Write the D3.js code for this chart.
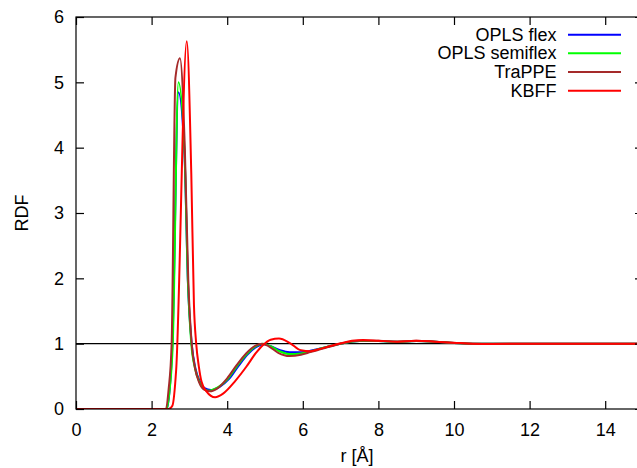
<!DOCTYPE html>
<html>
<head>
<meta charset="utf-8">
<script src="https://cdn.jsdelivr.net/npm/d3@7"></script>
<style>
  html, body { margin: 0; padding: 0; background: #fff; }
  svg { display: block; }
  text { font-family: "Liberation Sans", Arial, Helvetica, sans-serif; fill: #000; }
</style>
</head>
<body>
<svg id="chart" width="637" height="468"></svg>
<script>
// ---- data ----
const seriesNames = ["OPLS flex", "OPLS semiflex", "TraPPE", "KBFF"];
const seriesColors = ["#0000ff", "#00ff00", "#a52a2a", "#ff0000"];

const xTicks = [0, 2, 4, 6, 8, 10, 12, 14];
const yTicks = [0, 1, 2, 3, 4, 5, 6];

const oplsFlexR = [0, 2.4, 2.47, 2.55, 2.71, 2.87, 2.96, 3.06, 3.16, 3.27, 3.4, 3.57, 3.8, 4.05, 4.3, 4.55, 4.8, 4.97, 5.15, 5.4, 5.65, 5.95, 6.2, 6.5, 7.0, 7.5, 8.0, 8.5, 9.0, 9.5, 10.0, 10.5, 11, 12, 13, 14, 15.5];
const oplsFlexG = [0, 0, 0.25, 1.0, 4.85, 3.9, 1.95, 1.0, 0.62, 0.43, 0.32, 0.29, 0.34, 0.46, 0.66, 0.84, 0.96, 0.99, 0.96, 0.9, 0.87, 0.87, 0.89, 0.93, 1.0, 1.04, 1.04, 1.03, 1.04, 1.03, 1.01, 1.0, 1.0, 1.0, 1.0, 1.0, 1.0];

const oplsSemiR = [0, 2.4, 2.47, 2.56, 2.71, 2.87, 2.96, 3.05, 3.15, 3.26, 3.38, 3.5, 3.75, 4.0, 4.25, 4.5, 4.75, 4.95, 5.15, 5.4, 5.65, 5.95, 6.2, 6.5, 7.0, 7.5, 8.0, 8.5, 9.0, 9.5, 10.0, 10.5, 11, 12, 13, 14, 15.5];
const oplsSemiG = [0, 0, 0.25, 1.0, 5.0, 3.95, 1.97, 1.0, 0.62, 0.42, 0.31, 0.28, 0.33, 0.45, 0.65, 0.83, 0.96, 1.0, 0.96, 0.88, 0.84, 0.85, 0.88, 0.93, 1.0, 1.04, 1.04, 1.03, 1.04, 1.03, 1.01, 1.0, 1.0, 1.0, 1.0, 1.0, 1.0];

const trappeR = [0, 2.38, 2.45, 2.53, 2.63, 2.75, 2.88, 2.97, 3.06, 3.15, 3.25, 3.38, 3.54, 3.75, 4.0, 4.25, 4.5, 4.75, 4.92, 5.1, 5.35, 5.65, 5.95, 6.2, 6.5, 7.0, 7.5, 8.0, 8.5, 9.0, 9.5, 10.0, 10.5, 11, 12, 13, 14, 15.5];
const trappeG = [0, 0, 0.3, 1.0, 5.07, 5.37, 3.97, 1.98, 1.0, 0.62, 0.42, 0.3, 0.27, 0.32, 0.47, 0.67, 0.85, 0.97, 1.0, 0.96, 0.86, 0.81, 0.83, 0.87, 0.92, 1.0, 1.045, 1.045, 1.03, 1.045, 1.03, 1.01, 1.0, 1.0, 1.0, 1.0, 1.0, 1.0];

const kbffR = [0, 2.45, 2.55, 2.65, 2.93, 3.05, 3.12, 3.18, 3.25, 3.32, 3.45, 3.68, 3.9, 4.2, 4.51, 4.75, 4.95, 5.15, 5.37, 5.66, 5.95, 6.2, 6.45, 6.7, 7.0, 7.3, 7.6, 8.0, 8.5, 9.0, 9.5, 10.0, 10.5, 11, 12, 13, 14, 15.5];
const kbffG = [0, 0, 0.05, 0.6, 5.63, 3.6, 1.6, 1.0, 0.65, 0.42, 0.27, 0.18, 0.24, 0.42, 0.65, 0.85, 0.98, 1.06, 1.08, 1.01, 0.9, 0.885, 0.92, 0.96, 1.006, 1.045, 1.057, 1.045, 1.03, 1.045, 1.03, 1.015, 1.0, 0.995, 1.0, 1.0, 1.0, 1.0];

const seriesR = [oplsFlexR, oplsSemiR, trappeR, kbffR];
const seriesG = [oplsFlexG, oplsSemiG, trappeG, kbffG];

// ---- layout ----
const svg = d3.select("#chart");
const mLeft = 76, mRight = 643, mTop = 17, mBottom = 409;

const x = d3.scaleLinear().domain([0, 15]).range([mLeft, mRight]);
const y = d3.scaleLinear().domain([0, 6]).range([mBottom, mTop]);

svg.append("clipPath").attr("id", "clip")
  .append("rect").attr("x", mLeft).attr("y", mTop).attr("width", mRight - mLeft).attr("height", mBottom - mTop);

// reference line at 1
svg.append("line")
  .attr("x1", x(0)).attr("x2", x(15))
  .attr("y1", y(1)).attr("y2", y(1))
  .attr("stroke", "#000").attr("stroke-width", 1.2);

// curves
const line = d3.line()
  .x(d => x(d[0])).y(d => y(d[1]))
  .curve(d3.curveMonotoneX);

[0, 1, 2, 3].forEach(i => {
  const pts = seriesR[i].map((r, k) => [r, seriesG[i][k]]);
  svg.append("path")
    .attr("clip-path", "url(#clip)")
    .attr("d", line(pts))
    .attr("fill", "none")
    .attr("stroke", seriesColors[i])
    .attr("stroke-width", 2)
    .attr("stroke-linejoin", "round");
});

// frame
svg.append("rect")
  .attr("x", mLeft).attr("y", mTop)
  .attr("width", mRight - mLeft).attr("height", mBottom - mTop)
  .attr("fill", "none").attr("stroke", "#000").attr("stroke-width", 1.2);

// axes (ticks inward)
const fontSize = 18;
const fmt = d3.format("d");
const xAxisB = d3.axisBottom(x).tickValues(xTicks).tickFormat(fmt).tickSizeInner(-8).tickSizeOuter(0).tickPadding(14);
const gxb = svg.append("g").attr("transform", `translate(0,${mBottom})`).call(xAxisB);
const xAxisT = d3.axisTop(x).tickValues(xTicks).tickSizeInner(-8).tickSizeOuter(0).tickFormat("");
const gxt = svg.append("g").attr("transform", `translate(0,${mTop})`).call(xAxisT);
const yAxisL = d3.axisLeft(y).tickValues(yTicks).tickFormat(fmt).tickSizeInner(-8).tickSizeOuter(0).tickPadding(12);
const gyl = svg.append("g").attr("transform", `translate(${mLeft},0)`).call(yAxisL);
const yAxisR = d3.axisRight(y).tickValues(yTicks).tickSizeInner(-8).tickSizeOuter(0).tickFormat("");
const gyr = svg.append("g").attr("transform", `translate(${mRight},0)`).call(yAxisR);

[gxb, gxt, gyl, gyr].forEach(g => {
  g.select(".domain").remove();
  g.selectAll(".tick line").attr("stroke", "#000").attr("stroke-width", 1.2);
  g.selectAll("text")
    .attr("font-family", '"Liberation Sans", Arial, sans-serif')
    .attr("font-size", fontSize).attr("fill", "#000");
});
gxb.selectAll("text").attr("dy", "0.71em");

// axis titles
svg.append("text")
  .attr("x", 357).attr("y", 462)
  .attr("text-anchor", "middle")
  .attr("font-size", fontSize)
  .text("r [Å]");

svg.append("text")
  .attr("transform", "translate(28,213) rotate(-90)")
  .attr("text-anchor", "middle")
  .attr("font-size", fontSize)
  .text("RDF");

// legend
const legend = svg.append("g");
seriesNames.forEach((name, i) => {
  const cy = 34.7 + i * 18.67;
  legend.append("text")
    .attr("x", 556.5).attr("y", cy + 6)
    .attr("text-anchor", "end")
    .attr("font-size", fontSize)
    .text(name);
  legend.append("line")
    .attr("x1", 568).attr("x2", 621)
    .attr("y1", cy).attr("y2", cy)
    .attr("stroke", seriesColors[i]).attr("stroke-width", 2);
});
</script>
</body>
</html>
